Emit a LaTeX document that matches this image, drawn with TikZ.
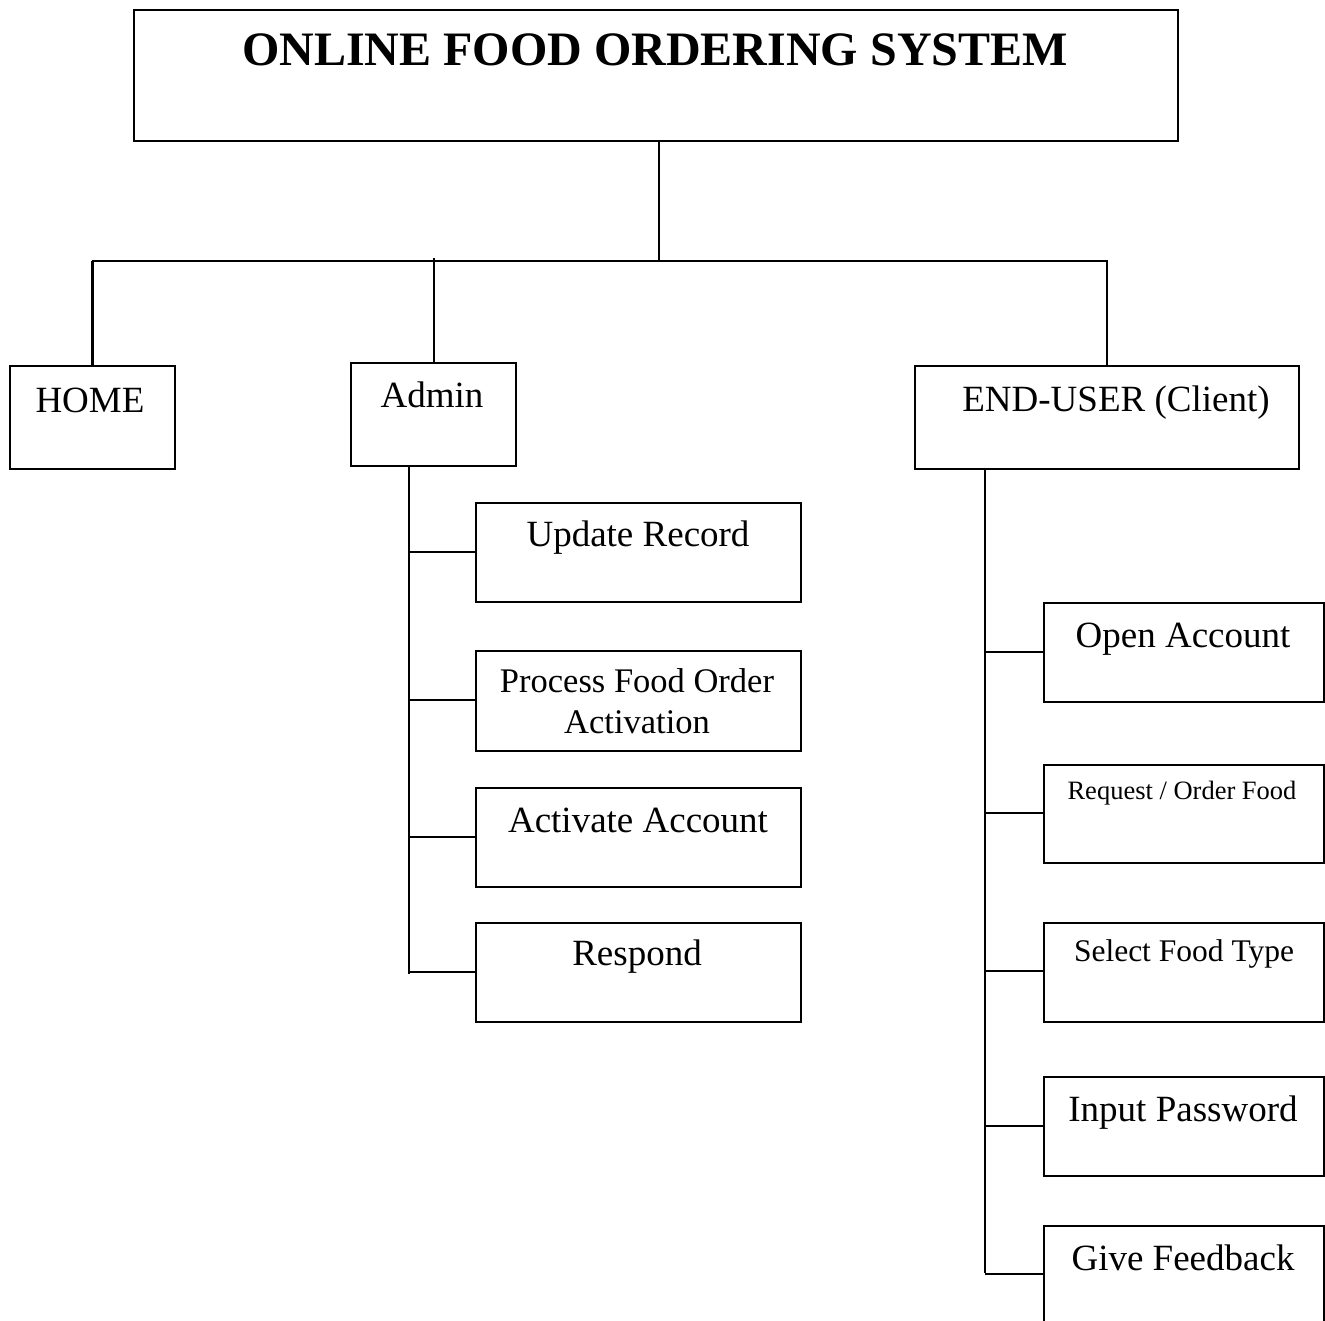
\documentclass[tikz,border=0pt]{standalone}
\usepackage{fontspec}
\setmainfont{Liberation Serif}
\begin{document}
\begin{tikzpicture}[x=1pt,y=-1pt,
  box/.style={draw,line width=2pt,rectangle,inner sep=0pt,anchor=north west},
  wire/.style={line width=2pt},
  lbl/.style={inner sep=0pt,anchor=base,font=\fontsize{37}{42}\selectfont},
]
\useasboundingbox (0,0) rectangle (1325,1321);

% top level
\node[box,line width=2.4pt,minimum width=1044pt,minimum height=131pt] (title) at (133,9) {};
\node[lbl,font=\fontsize{48}{54}\selectfont\bfseries] (titleT) at (655,66) {ONLINE FOOD ORDERING SYSTEM};

% second level
\node[box,minimum width=165pt,minimum height=103pt] (home) at (9,365) {};
\node[lbl] (homeT) at (90,412) {HOME};
\node[box,minimum width=165pt,minimum height=103pt] (admin) at (350,362) {};
\node[lbl] (adminT) at (432,407) {Admin};
\node[box,minimum width=384pt,minimum height=103pt] (eu) at (914,365) {};
\node[lbl] (euT) at (1116,411) {END-USER (Client)};

% admin tasks
\node[box,minimum width=325pt,minimum height=99pt] (upd) at (475,502) {};
\node[lbl] (updT) at (638,546) {Update Record};
\node[box,minimum width=325pt,minimum height=100pt] (proc) at (475,650) {};
\node[lbl,font=\fontsize{34.5}{41}\selectfont] (procT1) at (637,692) {Process Food Order};
\node[lbl,font=\fontsize{34.5}{41}\selectfont] (procT2) at (637,733) {Activation};
\node[box,minimum width=325pt,minimum height=99pt] (act) at (475,787) {};
\node[lbl] (actT) at (638,832) {Activate Account};
\node[box,minimum width=325pt,minimum height=99pt] (resp) at (475,922) {};
\node[lbl] (respT) at (637,965) {Respond};

% end-user tasks
\node[box,minimum width=280pt,minimum height=99pt] (open) at (1043,602) {};
\node[lbl] (openT) at (1183,647) {Open Account};
\node[box,minimum width=280pt,minimum height=98pt] (req) at (1043,764) {};
\node[lbl,font=\fontsize{26.5}{30}\selectfont] (reqT) at (1182,799) {Request / Order Food};
\node[box,minimum width=280pt,minimum height=99pt] (sel) at (1043,922) {};
\node[lbl,font=\fontsize{31.5}{36}\selectfont] (selT) at (1184,961) {Select Food Type};
\node[box,minimum width=280pt,minimum height=99pt] (inp) at (1043,1076) {};
\node[lbl] (inpT) at (1183,1121) {Input Password};
\node[box,minimum width=280pt,minimum height=100pt] (fb) at (1043,1225) {};
\node[lbl] (fbT) at (1183,1270) {Give Feedback};

% junction points
\coordinate (jT) at (659,261);
\coordinate (jA) at (434,258);
\coordinate (sA) at (409,0);
\coordinate (sE) at (985,0);

% title to second level
\draw[wire] (title.south -| jT) -- (jT);
\draw[wire] (home.north) -- (home.north |- jT) -- (eu.north |- jT) -- (eu.north);
\draw[wire,line width=2.6pt] (home.north) -- (home.north |- jT);
\draw[wire] (jA) -- (jA |- admin.north);

% admin branch
\draw[wire] (sA |- admin.south) -- ([yshift=-1pt]sA |- resp.west);
\draw[wire] ([yshift=1pt]sA |- upd.west) -- ([yshift=1pt]upd.west);
\draw[wire] ([yshift=1pt]sA |- proc.west) -- ([yshift=1pt]proc.west);
\draw[wire] ([yshift=1pt]sA |- act.west) -- ([yshift=1pt]act.west);
\draw[wire] ([yshift=1pt]sA |- resp.west) -- ([yshift=1pt]resp.west);

% end-user branch
\draw[wire] (sE |- eu.south) -- ([yshift=3pt]sE |- fb.west);
\draw[wire] ([yshift=1pt]sE |- open.west) -- ([yshift=1pt]open.west);
\draw[wire] ([yshift=1pt]sE |- req.west) -- ([yshift=1pt]req.west);
\draw[wire] ([yshift=2pt]sE |- sel.west) -- ([yshift=2pt]sel.west);
\draw[wire] ([yshift=1pt]sE |- inp.west) -- ([yshift=1pt]inp.west);
\draw[wire] ([yshift=2pt]sE |- fb.west) -- ([yshift=2pt]fb.west);
\end{tikzpicture}
\end{document}
